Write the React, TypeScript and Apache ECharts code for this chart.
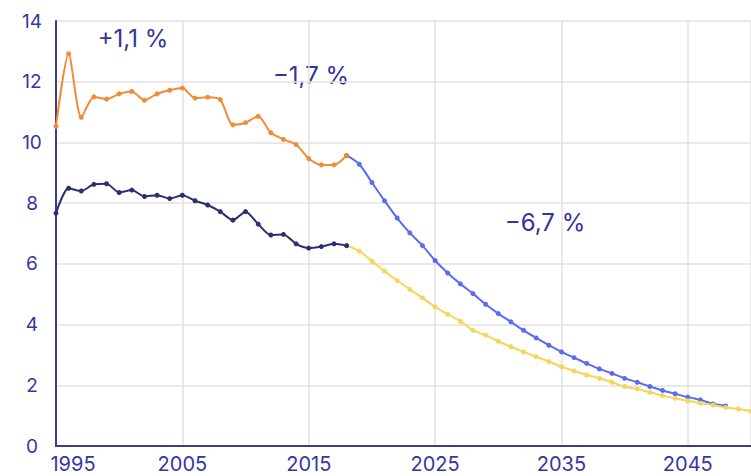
import React, { useEffect, useRef } from "react";
import * as echarts from "echarts";

const BASE_YEAR = 1995;
const histYears = [1995, 1996, 1997, 1998, 1999, 2000, 2001, 2002, 2003, 2004, 2005, 2006, 2007, 2008, 2009, 2010, 2011, 2012, 2013, 2014, 2015, 2016, 2017, 2018];
const orangeValues = [10.53, 12.92, 10.83, 11.5, 11.43, 11.6, 11.68, 11.39, 11.6, 11.72, 11.79, 11.46, 11.49, 11.41, 10.58, 10.65, 10.86, 10.32, 10.1, 9.93, 9.47, 9.26, 9.26, 9.57];
const navyValues = [7.67, 8.49, 8.4, 8.62, 8.64, 8.35, 8.43, 8.22, 8.26, 8.15, 8.26, 8.08, 7.94, 7.72, 7.44, 7.72, 7.31, 6.95, 6.97, 6.66, 6.52, 6.57, 6.66, 6.6];

const blueYears = [2018, 2019, 2020, 2021, 2022, 2023, 2024, 2025, 2026, 2027, 2028, 2029, 2030, 2031, 2032, 2033, 2034, 2035, 2036, 2037, 2038, 2039, 2040, 2041, 2042, 2043, 2044, 2045, 2046, 2047, 2048];
const blueValues = [9.57, 9.28, 8.68, 8.08, 7.51, 7.02, 6.6, 6.11, 5.7, 5.34, 5.02, 4.67, 4.36, 4.09, 3.81, 3.56, 3.32, 3.1, 2.91, 2.72, 2.54, 2.39, 2.23, 2.1, 1.96, 1.83, 1.72, 1.61, 1.52, 1.39, 1.32];

const yellowYears = [2018, 2019, 2020, 2021, 2022, 2023, 2024, 2025, 2026, 2027, 2028, 2029, 2030, 2031, 2032, 2033, 2034, 2035, 2036, 2037, 2038, 2039, 2040, 2041, 2042, 2043, 2044, 2045, 2046, 2047, 2048, 2049, 2050];
const yellowValues = [6.6, 6.42, 6.09, 5.76, 5.45, 5.16, 4.88, 4.58, 4.34, 4.11, 3.81, 3.65, 3.45, 3.27, 3.1, 2.94, 2.78, 2.61, 2.47, 2.34, 2.23, 2.1, 1.96, 1.88, 1.77, 1.66, 1.57, 1.49, 1.41, 1.35, 1.27, 1.22, 1.15];

const annotations = ["+1,1 %", "−1,7 %", "−6,7 %"];

const FONT = "Inter, 'Noto Sans', sans-serif";
const TEXT_COLOR = "#3636a2";
const NOTE_COLOR = "#34349c";

function pairs(years: number[], values: number[]) {
  return years.map((y, i) => [y - BASE_YEAR, values[i]]);
}

export default function App() {
  const ref = useRef<HTMLDivElement>(null);
  useEffect(() => {
    if (!ref.current) return;
    const chart = echarts.init(ref.current, undefined, { renderer: "svg" });
    const lineSeries = (name: string, data: number[][], color: string, z: number, smooth: number) => ({
      name,
      type: "line",
      data,
      smooth,
      z,
      symbol: "circle",
      symbolSize: 5,
      showSymbol: true,
      lineStyle: { color, width: 2 },
      itemStyle: { color },
      clip: true,
    });
    chart.setOption({
      animation: false,
      backgroundColor: "#ffffff",
      grid: { left: 56, right: -5, top: 21, bottom: 30, containLabel: false },
      xAxis: {
        type: "value",
        min: 0,
        max: 55,
        interval: 10,
        axisLine: { show: true, lineStyle: { color: "#3b3e86", width: 2 } },
        axisTick: { show: false },
        axisLabel: {
          color: TEXT_COLOR,
          fontFamily: FONT,
          fontSize: 20,
          margin: 8,
          showMaxLabel: false,
          formatter: (v: number) => (v === 0 ? `{first|${v + BASE_YEAR}}` : String(v + BASE_YEAR)),
          rich: {
            first: { color: TEXT_COLOR, fontFamily: FONT, fontSize: 20, padding: [0, 0, 0, 34] },
          },
        },
        splitLine: { show: true, lineStyle: { color: "#e2e2e2", width: 1.5 } },
      },
      yAxis: {
        type: "value",
        min: 0,
        max: 14,
        interval: 2,
        axisLine: { show: true, lineStyle: { color: "#3b3e86", width: 2 } },
        axisTick: { show: false },
        axisLabel: {
          color: TEXT_COLOR,
          fontFamily: FONT,
          fontSize: 19,
          margin: 24,
          align: "center",
        },
        splitLine: { show: true, lineStyle: { color: "#e2e2e2", width: 1.5 } },
      },
      series: [
        lineSeries("Projection haute", pairs(blueYears, blueValues), "#5a6cf0", 2, 0.3),
        lineSeries("Projection basse", pairs(yellowYears, yellowValues), "#f5d55a", 2, 0.3),
        lineSeries("Historique 1", pairs(histYears, orangeValues), "#f28b36", 3, 0.25),
        lineSeries("Historique 2", pairs(histYears, navyValues), "#2b306f", 3, 0.25),
      ],
      graphic: [
        { type: "text", x: 133, y: 38, style: { text: annotations[0], fill: NOTE_COLOR, font: `24px ${FONT}`, textAlign: "center", textVerticalAlign: "middle" } },
        { type: "text", x: 311, y: 75, style: { text: annotations[1], fill: NOTE_COLOR, font: `24px ${FONT}`, textAlign: "center", textVerticalAlign: "middle" } },
        { type: "text", x: 545, y: 222, style: { text: annotations[2], fill: NOTE_COLOR, font: `24px ${FONT}`, textAlign: "center", textVerticalAlign: "middle" } },
      ],
    });
    return () => chart.dispose();
  }, []);
  return <div ref={ref} style={{ width: 751, height: 476, position: "fixed", left: 0, top: 0 }} />;
}
